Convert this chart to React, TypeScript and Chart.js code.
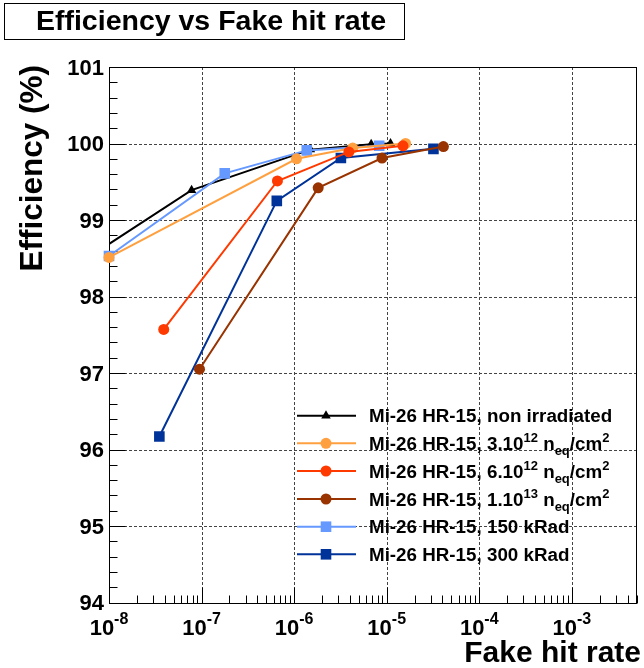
import { useEffect, useRef } from 'react';
import { Chart, registerables } from 'chart.js';

Chart.register(...registerables);

// ---------- data ----------
const seriesLabels = [
  'Mi-26 HR-15, non irradiated',
  'Mi-26 HR-15, 3.10^{12} n_{eq}/cm^{2}',
  'Mi-26 HR-15, 6.10^{12} n_{eq}/cm^{2}',
  'Mi-26 HR-15, 1.10^{13} n_{eq}/cm^{2}',
  'Mi-26 HR-15, 150 kRad',
  'Mi-26 HR-15, 300 kRad',
];

const nonIrrX = [5e-9, 7.8e-8, 1.5e-6, 6.8e-6, 1.1e-5];
const nonIrrY = [98.45, 99.39, 99.92, 99.99, 100.0];

const n3e12X = [1e-8, 1.06e-6, 4.3e-6, 1.6e-5];
const n3e12Y = [98.51, 99.8, 99.94, 100.0];

const n6e12X = [3.9e-8, 6.6e-7, 3.9e-6, 1.5e-5];
const n6e12Y = [97.57, 99.51, 99.89, 99.97];

const n1e13X = [9.5e-8, 1.82e-6, 8.9e-6, 4.1e-5];
const n1e13Y = [97.05, 99.42, 99.81, 99.96];

const k150X = [1e-8, 1.78e-7, 1.37e-6, 8.3e-6];
const k150Y = [98.53, 99.61, 99.91, 99.97];

const k300X = [3.5e-8, 6.5e-7, 3.2e-6, 3.2e-5];
const k300Y = [96.17, 99.25, 99.81, 99.93];

const xMin = 1e-8;
const xMax = 5e-3;
const yMin = 94;
const yMax = 101;
const xDecadeTicks = [1e-8, 1e-7, 1e-6, 1e-5, 1e-4, 1e-3];
const xDecadeExponents = ['-8', '-7', '-6', '-5', '-4', '-3'];
const yTicks = [94, 95, 96, 97, 98, 99, 100, 101];

const titleText = 'Efficiency vs Fake hit rate';
const xTitle = 'Fake hit rate';
const yTitle = 'Efficiency (%)';

// ---------- styles ----------
const colors = ['#000000', '#ffa040', '#ff3a00', '#993300', '#6699ff', '#003399'];
const pointStyles = ['triangle', 'circle', 'circle', 'circle', 'rect', 'rect'];
const pointRadii = [5.5, 5.5, 5.5, 5.5, 7.5, 7.5];
const drawOrder = [6, 3, 2, 1, 5, 4];
const FONT = '"Liberation Sans", Arial, Helvetica, sans-serif';
const legendRows = [415.7, 443.3, 471, 499, 526.7, 554.3];

const zip = (xs: number[], ys: number[]) => xs.map((x, i) => ({ x, y: ys[i] }));

function drawRich(ctx: CanvasRenderingContext2D, text: string, x: number, y: number, size: number) {
  const parts: { t: string; k: 'n' | 'sup' | 'sub' }[] = [];
  let i = 0;
  let buf = '';
  while (i < text.length) {
    if ((text[i] === '^' || text[i] === '_') && text[i + 1] === '{') {
      if (buf) parts.push({ t: buf, k: 'n' });
      buf = '';
      const kind = text[i] === '^' ? 'sup' : 'sub';
      const end = text.indexOf('}', i);
      parts.push({ t: text.slice(i + 2, end), k: kind });
      i = end + 1;
    } else {
      buf += text[i];
      i++;
    }
  }
  if (buf) parts.push({ t: buf, k: 'n' });
  let cx = x;
  const small = Math.round(size * 0.7);
  for (const p of parts) {
    if (p.k === 'n') {
      ctx.font = `bold ${size}px ${FONT}`;
      ctx.fillText(p.t, cx, y);
    } else if (p.k === 'sup') {
      ctx.font = `bold ${small}px ${FONT}`;
      ctx.fillText(p.t, cx, y - size * 0.42);
    } else {
      ctx.font = `bold ${small}px ${FONT}`;
      ctx.fillText(p.t, cx, y + size * 0.28);
    }
    cx += ctx.measureText(p.t).width;
  }
}

function legendMarker(ctx: CanvasRenderingContext2D, style: string, r: number, x: number, y: number) {
  ctx.beginPath();
  if (style === 'circle') {
    ctx.arc(x, y, r, 0, Math.PI * 2);
  } else if (style === 'rect') {
    const s = Math.SQRT1_2 * r;
    ctx.rect(x - s, y - s, 2 * s, 2 * s);
  } else {
    ctx.moveTo(x, y - r);
    ctx.lineTo(x + Math.sin((2 * Math.PI) / 3) * r, y - Math.cos((2 * Math.PI) / 3) * r);
    ctx.lineTo(x + Math.sin((4 * Math.PI) / 3) * r, y - Math.cos((4 * Math.PI) / 3) * r);
    ctx.closePath();
  }
  ctx.fill();
}

const decorPlugin = {
  id: 'decor',
  beforeDatasetsDraw(chart: any) {
    const ctx: CanvasRenderingContext2D = chart.ctx;
    const xs = chart.scales.x;
    const ys = chart.scales.y;
    const { left, right, top, bottom } = chart.chartArea;
    ctx.save();
    // grid
    ctx.strokeStyle = '#444';
    ctx.lineWidth = 1;
    ctx.setLineDash([3, 2]);
    for (const v of xDecadeTicks) {
      if (v <= xMin) continue;
      const px = Math.round(xs.getPixelForValue(v)) + 0.5;
      ctx.beginPath();
      ctx.moveTo(px, top);
      ctx.lineTo(px, bottom);
      ctx.stroke();
    }
    for (const v of yTicks) {
      if (v <= yMin || v >= yMax) continue;
      const py = Math.round(ys.getPixelForValue(v)) + 0.5;
      ctx.beginPath();
      ctx.moveTo(left, py);
      ctx.lineTo(right, py);
      ctx.stroke();
    }
    ctx.setLineDash([]);
    // frame
    ctx.strokeStyle = '#000';
    ctx.lineWidth = 1;
    ctx.strokeRect(Math.round(left) + 0.5, Math.round(top) + 0.5, Math.round(right - left) - 1, Math.round(bottom - top));
    // y ticks
    const bx = Math.round(left) + 0.5;
    for (let v = yMin; v <= yMax + 1e-9; v += 0.2) {
      const vv = Math.round(v * 10) / 10;
      const major = Math.abs(vv - Math.round(vv)) < 1e-6;
      const py = Math.round(ys.getPixelForValue(vv)) + 0.5;
      ctx.beginPath();
      ctx.moveTo(bx, py);
      ctx.lineTo(bx + (major ? 16 : 8), py);
      ctx.stroke();
    }
    // x ticks
    const by = Math.round(bottom) + 0.5;
    for (let e = -8; e <= -3; e++) {
      for (let m = 1; m <= 9; m++) {
        const v = m * Math.pow(10, e);
        if (v < xMin || v > xMax) continue;
        const px = Math.round(xs.getPixelForValue(v)) + 0.5;
        ctx.beginPath();
        ctx.moveTo(px, by);
        ctx.lineTo(px, by - (m === 1 ? 16 : 8));
        ctx.stroke();
      }
    }
    ctx.restore();
  },
  afterDraw(chart: any) {
    const ctx: CanvasRenderingContext2D = chart.ctx;
    const xs = chart.scales.x;
    const ys = chart.scales.y;
    const { left, bottom } = chart.chartArea;
    ctx.save();
    ctx.fillStyle = '#000';
    // y tick labels
    ctx.font = `bold 22px ${FONT}`;
    ctx.textAlign = 'right';
    ctx.textBaseline = 'alphabetic';
    for (const v of yTicks) {
      ctx.fillText(String(v), left - 5, ys.getPixelForValue(v) + 7.5);
    }
    // x tick labels
    ctx.textAlign = 'left';
    xDecadeTicks.forEach((v, i) => {
      const px = xs.getPixelForValue(v);
      ctx.font = `bold 22px ${FONT}`;
      const w1 = ctx.measureText('10').width;
      ctx.font = `bold 16px ${FONT}`;
      const w2 = ctx.measureText(xDecadeExponents[i]).width;
      const x0 = px - (w1 + w2) / 2;
      ctx.font = `bold 22px ${FONT}`;
      ctx.fillText('10', x0, bottom + 32.5);
      ctx.font = `bold 16px ${FONT}`;
      ctx.fillText(xDecadeExponents[i], x0 + w1, bottom + 21.5);
    });
    // axis titles
    ctx.font = `bold 30px ${FONT}`;
    ctx.textAlign = 'right';
    ctx.fillText(xTitle, 641, 662);
    ctx.save();
    ctx.translate(42, 65);
    ctx.rotate(-Math.PI / 2);
    ctx.font = `bold 31.5px ${FONT}`;
    ctx.textAlign = 'right';
    ctx.fillText(yTitle, 0, 0);
    ctx.restore();
    // title box
    ctx.fillStyle = '#fff';
    ctx.fillRect(4.5, 3.5, 400, 36);
    ctx.strokeStyle = '#000';
    ctx.lineWidth = 1;
    ctx.strokeRect(4.5, 3.5, 400, 36);
    ctx.fillStyle = '#000';
    ctx.font = `bold 28.5px ${FONT}`;
    ctx.textAlign = 'center';
    ctx.fillText(titleText, 211, 30);
    // legend
    seriesLabels.forEach((lab, i) => {
      const y = legendRows[i];
      ctx.strokeStyle = colors[i];
      ctx.lineWidth = 2;
      ctx.beginPath();
      ctx.moveTo(297, y);
      ctx.lineTo(356, y);
      ctx.stroke();
      ctx.fillStyle = colors[i];
      legendMarker(ctx, pointStyles[i], pointRadii[i], 326, y);
      ctx.fillStyle = '#000';
      ctx.textAlign = 'left';
      drawRich(ctx, lab, 369, y + 6.5, 18.8);
    });
    ctx.restore();
  },
};

export default function App() {
  const ref = useRef<HTMLCanvasElement>(null);
  useEffect(() => {
    if (!ref.current) return;
    const data = [
      zip(nonIrrX, nonIrrY),
      zip(n3e12X, n3e12Y),
      zip(n6e12X, n6e12Y),
      zip(n1e13X, n1e13Y),
      zip(k150X, k150Y),
      zip(k300X, k300Y),
    ];
    const chart = new Chart(ref.current, {
      type: 'line',
      data: {
        datasets: data.map((d, i) => ({
          label: seriesLabels[i],
          data: d,
          borderColor: colors[i],
          backgroundColor: colors[i],
          borderWidth: 2,
          pointStyle: pointStyles[i] as any,
          pointRadius: pointRadii[i],
          pointBorderWidth: 0,
          pointBackgroundColor: colors[i],
          tension: 0,
          fill: false,
          order: drawOrder[i],
          clip: i === 0 ? { left: 0, top: 10, right: 10, bottom: 10 } : 10,
        })) as any,
      },
      options: {
        responsive: false,
        animation: false,
        devicePixelRatio: 1,
        layout: { padding: { left: 109, top: 67, right: 1, bottom: 65.5 } },
        plugins: { legend: { display: false }, tooltip: { enabled: false }, title: { display: false } },
        scales: {
          x: { type: 'logarithmic', min: xMin, max: xMax, display: false },
          y: { type: 'linear', min: yMin, max: yMax, display: false },
        },
      },
      plugins: [decorPlugin],
    });
    return () => chart.destroy();
  }, []);
  return (
    <div style={{ position: 'absolute', left: 0, top: 0, width: 644, height: 668, background: '#fff' }}>
      <canvas ref={ref} width={644} height={668} />
    </div>
  );
}
